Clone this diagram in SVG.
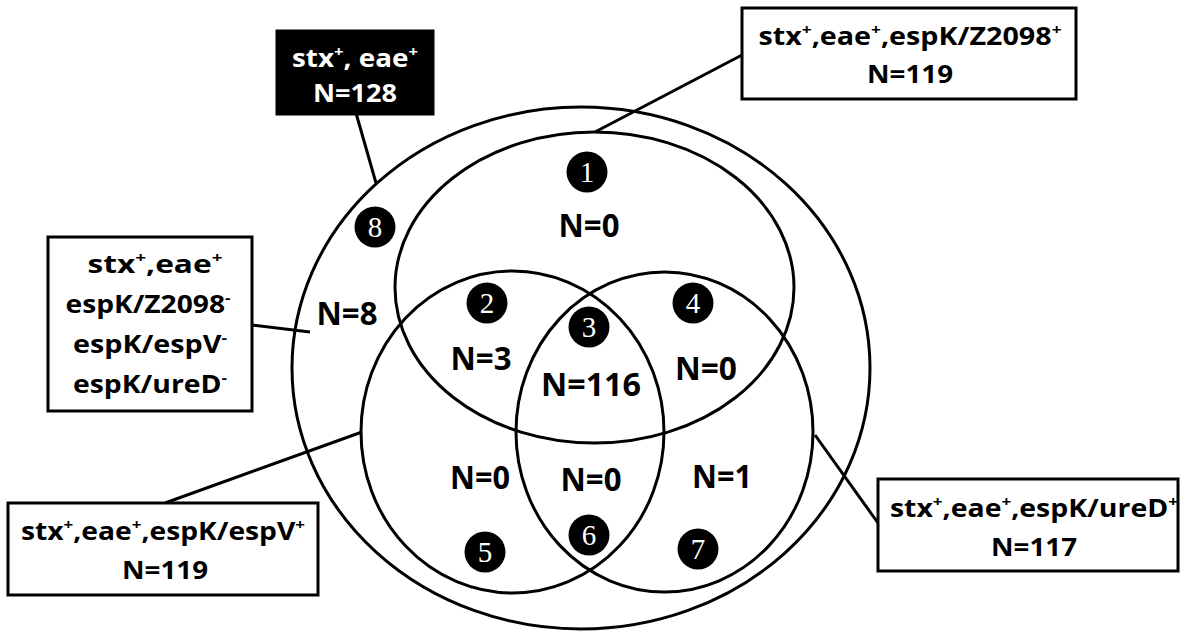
<svg xmlns="http://www.w3.org/2000/svg" width="1181" height="631" viewBox="0 0 1181 631">
<style>
.bg{fill:#ffffff}
.ell{fill:none;stroke:#000;stroke-width:3}
.box{fill:#fff;stroke:#000;stroke-width:3}
.boxk{fill:#000;stroke:#000;stroke-width:3}
.con{stroke:#000;stroke-width:3;fill:none}
.bt{font-family:"Open Sans","Liberation Sans",sans-serif;font-weight:bold;font-size:25px;text-anchor:middle;fill:#000}
.wt{fill:#fff}
.sup{font-size:15px}
.nl{font-family:"Open Sans","Liberation Sans",sans-serif;font-weight:bold;font-size:33px;text-anchor:middle;fill:#000}
.dot{fill:#000}
.dg{font-family:"Liberation Serif",serif;font-size:29px;text-anchor:middle;fill:#fff}
</style>
<rect class="bg" x="0" y="0" width="1181" height="631"/>
<g id="sets">
<ellipse id="outer" class="ell" cx="581" cy="368" rx="289" ry="261"/>
<ellipse id="setZ2098" class="ell" cx="594.5" cy="287.5" rx="199.5" ry="155.5"/>
<ellipse id="setEspV" class="ell" cx="512.5" cy="432" rx="151.5" ry="161"/>
<ellipse id="setUreD" class="ell" cx="664.5" cy="432" rx="148.5" ry="160"/>
</g>
<g id="connectors">
<line class="con" x1="356" y1="113" x2="376" y2="183"/>
<line class="con" x1="595" y1="132" x2="742" y2="55"/>
<line class="con" x1="252" y1="325" x2="310" y2="332"/>
<line class="con" x1="165" y1="503" x2="362" y2="432"/>
<line class="con" x1="815" y1="435" x2="878" y2="523"/>
</g>
<g id="box-all">
<rect class="boxk" x="277" y="31" width="156" height="83"/>
<text class="bt wt" x="355" y="67" textLength="126" lengthAdjust="spacingAndGlyphs">stx<tspan class="sup" baseline-shift="super">+</tspan>, eae<tspan class="sup" baseline-shift="super">+</tspan></text>
<text class="bt wt" x="355" y="102" textLength="84" lengthAdjust="spacingAndGlyphs">N=128</text>
</g>
<g id="box-z2098">
<rect class="box" x="742" y="8" width="334" height="91"/>
<text class="bt" x="910" y="45" textLength="303" lengthAdjust="spacingAndGlyphs">stx<tspan class="sup" baseline-shift="super">+</tspan>,eae<tspan class="sup" baseline-shift="super">+</tspan>,espK/Z2098<tspan class="sup" baseline-shift="super">+</tspan></text>
<text class="bt" x="910" y="83" textLength="86" lengthAdjust="spacingAndGlyphs">N=119</text>
</g>
<g id="box-neg">
<rect class="box" x="48" y="237" width="204" height="174"/>
<text class="bt" x="155" y="273" textLength="135" lengthAdjust="spacingAndGlyphs">stx<tspan class="sup" baseline-shift="super">+</tspan>,eae<tspan class="sup" baseline-shift="super">+</tspan></text>
<text class="bt" x="148" y="313" textLength="165" lengthAdjust="spacingAndGlyphs">espK/Z2098<tspan class="sup" baseline-shift="super">-</tspan></text>
<text class="bt" x="150" y="353" textLength="154" lengthAdjust="spacingAndGlyphs">espK/espV<tspan class="sup" baseline-shift="super">-</tspan></text>
<text class="bt" x="150" y="393" textLength="154" lengthAdjust="spacingAndGlyphs">espK/ureD<tspan class="sup" baseline-shift="super">-</tspan></text>
</g>
<g id="box-espv">
<rect class="box" x="8" y="503" width="310" height="92"/>
<text class="bt" x="163" y="540" textLength="284" lengthAdjust="spacingAndGlyphs">stx<tspan class="sup" baseline-shift="super">+</tspan>,eae<tspan class="sup" baseline-shift="super">+</tspan>,espK/espV<tspan class="sup" baseline-shift="super">+</tspan></text>
<text class="bt" x="165" y="579" textLength="86" lengthAdjust="spacingAndGlyphs">N=119</text>
</g>
<g id="box-ured">
<rect class="box" x="878" y="479" width="300" height="92"/>
<text class="bt" x="1034" y="517" textLength="288" lengthAdjust="spacingAndGlyphs">stx<tspan class="sup" baseline-shift="super">+</tspan>,eae<tspan class="sup" baseline-shift="super">+</tspan>,espK/ureD<tspan class="sup" baseline-shift="super">+</tspan></text>
<text class="bt" x="1034" y="556" textLength="86" lengthAdjust="spacingAndGlyphs">N=117</text>
</g>
<g id="region-1"><circle class="dot" cx="587" cy="172" r="20.5"/><text class="dg" x="587" y="182">1</text><text class="nl" x="589" y="237" textLength="61" lengthAdjust="spacingAndGlyphs">N=0</text></g>
<g id="region-2"><circle class="dot" cx="487" cy="303" r="20.5"/><text class="dg" x="487" y="313">2</text><text class="nl" x="481" y="370" textLength="61" lengthAdjust="spacingAndGlyphs">N=3</text></g>
<g id="region-3"><circle class="dot" cx="589" cy="327" r="20.5"/><text class="dg" x="589" y="337">3</text><text class="nl" x="591" y="396" textLength="100" lengthAdjust="spacingAndGlyphs">N=116</text></g>
<g id="region-4"><circle class="dot" cx="693" cy="303" r="20.5"/><text class="dg" x="693" y="313">4</text><text class="nl" x="706" y="380" textLength="62" lengthAdjust="spacingAndGlyphs">N=0</text></g>
<g id="region-5"><circle class="dot" cx="485" cy="552" r="20.5"/><text class="dg" x="485" y="562">5</text><text class="nl" x="480" y="489" textLength="60" lengthAdjust="spacingAndGlyphs">N=0</text></g>
<g id="region-6"><circle class="dot" cx="589" cy="535" r="20.5"/><text class="dg" x="589" y="545">6</text><text class="nl" x="591" y="491" textLength="61" lengthAdjust="spacingAndGlyphs">N=0</text></g>
<g id="region-7"><circle class="dot" cx="698" cy="549" r="20.5"/><text class="dg" x="698" y="559">7</text><text class="nl" x="722" y="488" textLength="60" lengthAdjust="spacingAndGlyphs">N=1</text></g>
<g id="region-8"><circle class="dot" cx="375" cy="227" r="20.5"/><text class="dg" x="375" y="237">8</text><text class="nl" x="347" y="325" textLength="61" lengthAdjust="spacingAndGlyphs">N=8</text></g>
</svg>
